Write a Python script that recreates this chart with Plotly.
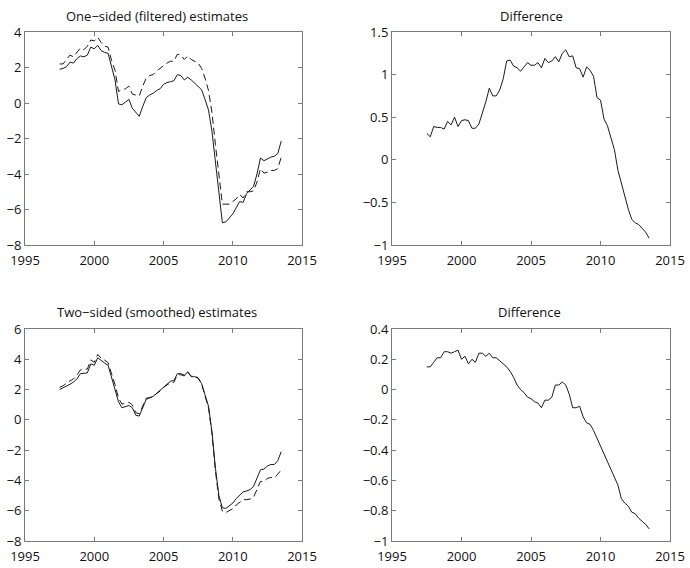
import plotly.graph_objects as go

# Quarterly dates 1997Q3 .. 2013Q3
dates = [1997.5 + 0.25 * i for i in range(65)]

filtered_solid = [1.9, 1.95, 2.05, 2.3, 2.25, 2.5, 2.65, 2.6, 2.7, 3.15, 3.05, 3.25, 2.95, 2.85, 2.8, 2.0,
                  1.3, -0.05, -0.1, 0.05, 0.2, -0.3, -0.5, -0.75, -0.2, 0.3, 0.45, 0.55, 0.7, 0.8, 1.05, 1.15,
                  1.2, 1.25, 1.6, 1.55, 1.3, 1.45, 1.3, 1.1, 0.95, 0.75, 0.2, -0.4, -1.6, -3.3, -5.3, -6.75,
                  -6.7, -6.45, -6.25, -5.9, -5.55, -5.6, -5.1, -4.9, -4.7, -4.0, -3.1, -3.25, -3.15, -3.05,
                  -3.0, -2.85, -2.15]
filtered_dashed = [2.2, 2.2, 2.45, 2.7, 2.6, 2.85, 3.1, 3.0, 3.2, 3.55, 3.5, 3.7, 3.4, 3.2, 3.15, 2.4,
                   1.85, 0.65, 0.75, 0.8, 0.95, 0.5, 0.45, 0.4, 0.95, 1.4, 1.55, 1.6, 1.8, 1.95, 2.15, 2.25,
                   2.35, 2.35, 2.75, 2.7, 2.45, 2.65, 2.45, 2.35, 2.25, 1.95, 1.4, 0.7, -0.55, -2.35, -4.2, -5.7,
                   -5.7, -5.7, -5.55, -5.4, -5.15, -5.35, -5.0, -5.0, -4.95, -4.45, -3.7, -3.95, -3.9, -3.8,
                   -3.8, -3.7, -3.05]
filtered_diff = [0.31, 0.27, 0.39, 0.38, 0.38, 0.36, 0.45, 0.41, 0.50, 0.39, 0.46, 0.47, 0.46, 0.37, 0.37, 0.42,
                 0.55, 0.68, 0.84, 0.75, 0.75, 0.82, 0.95, 1.16, 1.17, 1.10, 1.08, 1.04, 1.09, 1.14, 1.11, 1.11,
                 1.14, 1.08, 1.19, 1.14, 1.16, 1.21, 1.15, 1.25, 1.29, 1.21, 1.22, 1.08, 1.07, 0.97, 1.09, 1.05,
                 0.98, 0.73, 0.70, 0.48, 0.40, 0.25, 0.12, -0.12, -0.28, -0.43, -0.58, -0.70, -0.74, -0.76,
                 -0.80, -0.85, -0.92]

smoothed_solid = [2.0, 2.1, 2.25, 2.35, 2.5, 2.7, 3.05, 3.1, 3.1, 3.7, 3.6, 4.1, 3.9, 3.75, 3.6, 2.8,
                  2.1, 1.2, 0.8, 0.9, 0.95, 0.8, 0.3, 0.25, 0.75, 1.35, 1.45, 1.55, 1.75, 1.95, 2.2, 2.4,
                  2.55, 2.6, 3.05, 3.05, 2.95, 3.15, 2.85, 2.85, 2.75, 2.4, 1.6, 0.9, -0.8, -3.2, -5.0, -5.8,
                  -5.85, -5.7, -5.5, -5.2, -4.95, -4.75, -4.7, -4.6, -4.4, -3.85, -3.3, -3.25, -3.05, -2.95,
                  -2.95, -2.7, -2.1]
smoothed_dashed = [2.15, 2.25, 2.43, 2.56, 2.71, 2.95, 3.3, 3.34, 3.35, 3.96, 3.8, 4.32, 4.07, 3.95, 3.78, 3.04,
                   2.34, 1.42, 1.04, 1.11, 1.16, 0.99, 0.47, 0.40, 0.87, 1.43, 1.48, 1.55, 1.73, 1.90, 2.14, 2.32,
                   2.46, 2.48, 2.98, 2.98, 2.9, 3.18, 2.88, 2.9, 2.78, 2.37, 1.48, 0.78, -0.91, -3.38, -5.22, -6.03,
                   -6.12, -6.02, -5.87, -5.62, -5.42, -5.27, -5.27, -5.23, -5.12, -4.6, -4.07, -4.06, -3.87, -3.8,
                   -3.82, -3.59, -3.3]
smoothed_diff = [0.15, 0.15, 0.18, 0.21, 0.21, 0.25, 0.25, 0.24, 0.25, 0.26, 0.20, 0.22, 0.17, 0.20, 0.18, 0.24,
                 0.24, 0.22, 0.24, 0.21, 0.21, 0.19, 0.17, 0.15, 0.12, 0.08, 0.03, 0.00, -0.02, -0.05, -0.06, -0.08,
                 -0.09, -0.12, -0.07, -0.07, -0.05, 0.03, 0.03, 0.05, 0.03, -0.03, -0.12, -0.12, -0.11, -0.18, -0.22,
                 -0.23, -0.27, -0.32, -0.37, -0.42, -0.47, -0.52, -0.57, -0.63, -0.72, -0.75, -0.77, -0.81, -0.82,
                 -0.85, -0.87, -0.89, -0.92]

titles = ["One\u2212sided (filtered) estimates", "Difference",
          "Two\u2212sided (smoothed) estimates", "Difference"]
x_ticks = [1995, 2000, 2005, 2010, 2015]

W, H = 690, 568
LINE = "#1a1a1a"
AXC = "#7a7a7a"
FONT = dict(family="Open Sans, Arial, sans-serif", size=13, color="#111111")

fig = go.Figure()

def add(x, y, xa, ya, dash="solid"):
    fig.add_trace(go.Scatter(x=x, y=y, mode="lines", xaxis=xa, yaxis=ya,
                             line=dict(color=LINE, width=1, dash=dash),
                             showlegend=False, hoverinfo="skip"))

add(dates, filtered_dashed, "x", "y", "7px,4px")
add(dates, filtered_solid, "x", "y")
add(dates, filtered_diff, "x2", "y2")
add(dates, smoothed_dashed, "x3", "y3", "7px,4px")
add(dates, smoothed_solid, "x3", "y3")
add(dates, smoothed_diff, "x4", "y4")

# panel boxes in pixels (left, right, top, bottom)
boxes = [(25, 302, 32, 245), (392, 670, 32, 245), (25, 302, 329, 541), (392, 670, 329, 541)]
yranges = [(-8, 4, 2), (-1, 1.5, 0.5), (-8, 6, 2), (-1, 0.4, 0.2)]

def axis_common():
    return dict(showline=True, linecolor=AXC, linewidth=1, mirror="ticks",
                ticks="inside", ticklen=4, tickcolor=AXC, tickwidth=1,
                showgrid=False, zeroline=False, tickfont=FONT, automargin=False)

layout = {}
for i, ((l, r, t, b), (y0, y1, dy)) in enumerate(zip(boxes, yranges)):
    sfx = "" if i == 0 else str(i + 1)
    xa = axis_common()
    xa.update(domain=[l / W, r / W], range=[1995, 2015], tickvals=x_ticks,
              anchor="y" + sfx, ticklabelstandoff=3)
    ya = axis_common()
    ya.update(domain=[1 - b / H, 1 - t / H], range=[y0, y1], dtick=dy, tick0=y0,
              anchor="x" + sfx)
    layout["xaxis" + sfx] = xa
    layout["yaxis" + sfx] = ya

title_pos = [(157, 16), (531, 16), (157, 312), (529, 312)]
annotations = []
for txt, (px, py) in zip(titles, title_pos):
    annotations.append(dict(text=txt, x=px / W, y=1 - py / H, xref="paper", yref="paper",
                            xanchor="center", yanchor="middle", showarrow=False, font=FONT))

fig.update_layout(width=W, height=H, margin=dict(l=0, r=0, t=0, b=0),
                  paper_bgcolor="white", plot_bgcolor="white", template="none",
                  annotations=annotations, **layout)

fig.write_html("out.html", config={"displayModeBar": False},
               post_script="document.body.style.margin='0';document.body.style.overflow='hidden';")
